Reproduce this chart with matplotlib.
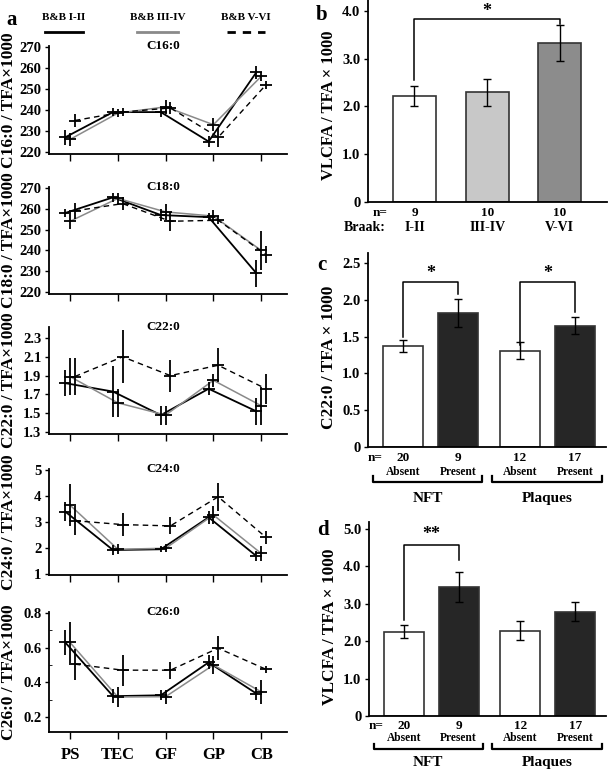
import matplotlib
matplotlib.use("Agg")
import matplotlib.pyplot as plt
import numpy as np

plt.rcParams['font.family'] = ['Liberation Serif', 'DejaVu Serif']
plt.rcParams['font.weight'] = 'bold'
plt.rcParams['axes.labelweight'] = 'bold'

# ---------------- data ----------------
regions = ['PS', 'TEC', 'GF', 'GP', 'CB']
groups_a = ['B&B I-II', 'B&B III-IV', 'B&B V-VI']

c16_12 = [227, 239, 239, 225, 258]
c16_12e = [3.5, 2, 2.5, 2.5, 3]
c16_34 = [226, 238.5, 241.5, 233, 256]
c16_34e = [3, 2, 3.5, 3, 2]
c16_56 = [235, 239, 241, 227, 252]
c16_56e = [3, 2, 3, 4.5, 2]

c18_12 = [258, 265.5, 257, 256, 229]
c18_12e = [2, 2, 3, 2, 6.5]
c18_34 = [254, 265, 258.5, 256.5, 240]
c18_34e = [3.5, 2.5, 4, 3, 9.5]
c18_56 = [259, 262.5, 254, 254.5, 238]
c18_56e = [4, 3, 4.5, 2, 4]

c22_12 = [1.82, 1.73, 1.48, 1.76, 1.52]
c22_12e = [0.14, 0.27, 0.10, 0.07, 0.14]
c22_34 = [1.89, 1.61, 1.48, 1.85, 1.58]
c22_34e = [0.20, 0.15, 0.10, 0.07, 0.20]
c22_56 = [1.89, 2.10, 1.90, 2.01, 1.76]
c22_56e = [0.20, 0.28, 0.17, 0.18, 0.16]

c24_12 = [3.40, 1.92, 1.95, 3.18, 1.69]
c24_12e = [0.38, 0.20, 0.12, 0.25, 0.20]
c24_34 = [3.65, 1.95, 1.99, 3.27, 1.79]
c24_34e = [0.80, 0.20, 0.15, 0.35, 0.30]
c24_56 = [3.05, 2.90, 2.85, 3.97, 2.41]
c24_56e = [0.55, 0.45, 0.33, 0.55, 0.25]

c26_12 = [0.63, 0.32, 0.325, 0.515, 0.335]
c26_12e = [0.07, 0.04, 0.03, 0.04, 0.04]
c26_34 = [0.63, 0.315, 0.317, 0.50, 0.345]
c26_34e = [0.12, 0.06, 0.04, 0.05, 0.07]
c26_56 = [0.505, 0.47, 0.47, 0.597, 0.475]
c26_56e = [0.09, 0.09, 0.05, 0.07, 0.02]

braak = ['I-II', 'III-IV', 'V-VI']
n_b = [9, 10, 10]
vlcfa_b = [2.22, 2.30, 3.33]
vlcfa_b_err = [0.20, 0.28, 0.37]

status = ['Absent', 'Present', 'Absent', 'Present']
pathology = ['NFT', 'Plaques']
n_cd = [20, 9, 12, 17]
c22_c = [1.37, 1.82, 1.31, 1.65]
c22_c_err = [0.085, 0.19, 0.11, 0.11]
vlcfa_d = [2.25, 3.46, 2.28, 2.79]
vlcfa_d_err = [0.17, 0.40, 0.26, 0.25]

# ---------------- layout helpers ----------------
W, H = 609, 771
fig = plt.figure(figsize=(W / 100, H / 100), dpi=100)
TICK_FS = 10.5


def rect(x0, y0, x1, y1):
    return [x0 / W, 1 - y1 / H, (x1 - x0) / W, (y1 - y0) / H]


def ftext(x, y, s, **kw):
    fig.text(x / W, 1 - y / H, s, **kw)


def style(ax):
    for s in ['top', 'right']:
        ax.spines[s].set_visible(False)
    for s in ['left', 'bottom']:
        ax.spines[s].set_linewidth(1.3)
    ax.tick_params(axis='both', labelsize=TICK_FS, width=1.0, pad=2.5)


# ---------------- panel a ----------------
panels = [
    ('C16:0', (c16_12, c16_12e, c16_34, c16_34e, c16_56, c16_56e), (46, 154), (219.05, 270.48),
     [220, 230, 240, 250, 260, 270], ['220', '230', '240', '250', '260', '270']),
    ('C18:0', (c18_12, c18_12e, c18_34, c18_34e, c18_56, c18_56e), (187, 294), (219.04, 270.48),
     [220, 230, 240, 250, 260, 270], ['220', '230', '240', '250', '260', '270']),
    ('C22:0', (c22_12, c22_12e, c22_34, c22_34e, c22_56, c22_56e), (327, 434), (1.279, 2.417),
     [1.3, 1.5, 1.7, 1.9, 2.1, 2.3], ['1.3', '1.5', '1.7', '1.9', '2.1', '2.3']),
    ('C24:0', (c24_12, c24_12e, c24_34, c24_34e, c24_56, c24_56e), (469, 575), (0.96, 5.04),
     [1, 2, 3, 4, 5], ['1', '2', '3', '4', '5']),
    ('C26:0', (c26_12, c26_12e, c26_34, c26_34e, c26_56, c26_56e), (612, 732), (0.113, 0.806),
     [0.2, 0.4, 0.6, 0.8], ['0.2', '0.4', '0.6', '0.8']),
]

x = np.arange(len(regions))
offsets = [-0.1, 0.0, 0.1]
styles = [dict(color='black', lw=1.3, ls='-'),
          dict(color='#8a8a8a', lw=1.1, ls='-'),
          dict(color='black', lw=1.0, ls=(0, (4, 3)))]

for i, (title, ser, (ytop, ybot), ylim, yt, ytl) in enumerate(panels):
    ax = fig.add_axes(rect(49, ytop, 287, ybot))
    style(ax)
    for k in range(3):
        vals, errs = ser[2 * k], ser[2 * k + 1]
        xx = x + offsets[k]
        ax.plot(xx, vals, **styles[k], zorder=2)
        ax.errorbar(xx, vals, yerr=errs, fmt='none', ecolor='black', elinewidth=1.3,
                    capsize=0, zorder=3)
        ax.plot(xx, vals, ls='none', marker='_', ms=8, mew=1.3, color='black', zorder=4)
    ax.set_xlim(-0.44, 4.54)
    ax.set_ylim(*ylim)
    ax.set_yticks(yt)
    ax.set_yticklabels(ytl)
    ax.set_xticks(x)
    ax.tick_params(axis='x', length=5, direction='out')
    ax.tick_params(axis='y', length=3, direction='out')
    if i == len(panels) - 1:
        ax.set_xticklabels(regions, fontsize=12, fontweight='bold')
        ax.tick_params(axis='x', pad=6)
        ax.set_yticks([0.3, 0.5, 0.7], minor=True)
        ax.tick_params(axis='y', which='minor', length=2.5, direction='in')
    else:
        ax.set_xticklabels([])
    ax.text(0.48, 1.0, title, transform=ax.transAxes, ha='center', va='center',
            fontsize=9.5, fontweight='bold')
    ax.set_ylabel(title + ' / TFA×1000', fontsize=12.5, fontweight='bold')
    ax.yaxis.set_label_coords(-0.135, 0.5)

# legend for panel a
ftext(12, 20, 'a', fontsize=15, fontweight='bold', ha='center', va='center')
leg_x = [(45, 83), (137, 178), (227, 265)]
for k, g in enumerate(groups_a):
    x0, x1 = leg_x[k]
    ftext((x0 + x1) / 2, 17, g, fontsize=8, fontweight='bold', ha='center', va='center')
    st = dict(styles[k])
    st['lw'] = 2.0
    if k == 2:
        st['ls'] = (0, (3, 2.5))
    fig.add_artist(plt.Line2D([x0 / W, x1 / W], [1 - 32 / H, 1 - 32 / H],
                              transform=fig.transFigure, **st))

# ---------------- panel b ----------------
axb = fig.add_axes(rect(368, 0, 607, 202))
style(axb)
xb = np.arange(len(braak))
axb.bar(xb, vlcfa_b, width=0.59, color=['white', '#c8c8c8', '#8c8c8c'],
        edgecolor='#333333', linewidth=1.2, zorder=2)
axb.errorbar(xb, vlcfa_b, yerr=vlcfa_b_err, fmt='none', ecolor='black',
             elinewidth=1.0, capsize=3, capthick=1.0, zorder=3)
axb.set_xlim(-0.64, 2.65)
axb.set_ylim(0, 4.23)
axb.set_yticks([0, 1, 2, 3, 4])
axb.set_yticklabels(['0', '1.0', '2.0', '3.0', '4.0'])
axb.set_xticks([])
axb.tick_params(axis='y', length=3, direction='out')
axb.set_ylabel('VLCFA / TFA × 1000', fontsize=12, fontweight='bold')
axb.yaxis.set_label_coords(-0.13, 0.48)
axb.plot([0, 0, 2, 2], [2.55, 3.83, 3.83, 3.72], color='black', lw=1.1, clip_on=False)
axb.text(1, 3.98, '*', ha='center', va='center', fontsize=13, fontweight='bold')
tb = axb.get_xaxis_transform()
axb.text(-0.47, -0.054, 'n=', transform=tb, ha='center', va='center', fontsize=9.5)
axb.text(-0.68, -0.124, 'Braak:', transform=tb, ha='center', va='center', fontsize=10)
for i in range(len(braak)):
    axb.text(xb[i], -0.054, str(n_b[i]), transform=tb, ha='center', va='center', fontsize=9.5)
    axb.text(xb[i], -0.124, braak[i], transform=tb, ha='center', va='center', fontsize=10)
ftext(322, 15, 'b', fontsize=15, fontweight='bold', ha='center', va='center')

# ---------------- panels c and d ----------------
xcd = np.array([0, 1, 2.127, 3.127])
cols_cd = ['white', '#262626', 'white', '#262626']


def bar_panel(ax, vals, errs, ylim, yt, ytl, ylabel, lab_y):
    style(ax)
    ax.bar(xcd, vals, width=0.73, color=cols_cd, edgecolor='#333333', linewidth=1.2, zorder=2)
    ax.errorbar(xcd, vals, yerr=errs, fmt='none', ecolor='black', elinewidth=1.0,
                capsize=3, capthick=1.0, zorder=3)
    ax.set_xlim(-0.636, 3.69)
    ax.set_ylim(*ylim)
    ax.set_yticks(yt)
    ax.set_yticklabels(ytl)
    ax.set_xticks([])
    ax.tick_params(axis='y', length=3, direction='out')
    ax.set_ylabel(ylabel, fontsize=12.5, fontweight='bold')
    ax.yaxis.set_label_coords(-0.13, 0.46)
    t = ax.get_xaxis_transform()
    ny, sy, by, tipy, gy = lab_y
    ax.text(-0.51, ny, 'n=', transform=t, ha='center', va='center', fontsize=9.5)
    for i in range(4):
        ax.text(xcd[i], ny, str(n_cd[i]), transform=t, ha='center', va='center', fontsize=9.5)
        ax.text(xcd[i], sy, status[i], transform=t, ha='center', va='center', fontsize=8.3)
    for (a, b), name in zip([(-0.545, 1.436), (1.618, 3.618)], pathology):
        ax.plot([a, a, b, b], [tipy, by, by, tipy], transform=t, color='black',
                lw=1.6, clip_on=False)
        ax.text((a + b) / 2 + 0.0, gy, name, transform=t, ha='center', va='center',
                fontsize=11)


axc = fig.add_axes(rect(368, 253, 606, 447))
bar_panel(axc, c22_c, c22_c_err, (0, 2.636), [0, 0.5, 1.0, 1.5, 2.0, 2.5],
          ['0', '0.5', '1.0', '1.5', '2.0', '2.5'], 'C22:0 / TFA × 1000',
          (-0.055, -0.131, -0.18, -0.152, -0.263))
axc.plot([0, 0, 1, 1], [1.49, 2.24, 2.24, 2.08], color='black', lw=1.1)
axc.text(0.5, 2.36, '*', ha='center', va='center', fontsize=13, fontweight='bold')
axc.plot([2.127, 2.127, 3.127, 3.127], [1.38, 2.24, 2.24, 1.83], color='black', lw=1.1)
axc.text(2.627, 2.36, '*', ha='center', va='center', fontsize=13, fontweight='bold')
ftext(322, 265, 'c', fontsize=15, fontweight='bold', ha='center', va='center')

axd = fig.add_axes(rect(369, 522, 606, 716))
bar_panel(axd, vlcfa_d, vlcfa_d_err, (0, 5.187), [0, 1, 2, 3, 4, 5],
          ['0', '1.0', '2.0', '3.0', '4.0', '5.0'], 'VLCFA / TFA × 1000',
          (-0.052, -0.115, -0.17, -0.142, -0.242))
axd.plot([0, 0, 1, 1], [2.57, 4.56, 4.56, 4.18], color='black', lw=1.1)
axd.text(0.5, 4.85, '**', ha='center', va='center', fontsize=13, fontweight='bold')
ftext(323, 530, 'd', fontsize=15, fontweight='bold', ha='center', va='center')

fig.savefig('out.png', dpi=100)
